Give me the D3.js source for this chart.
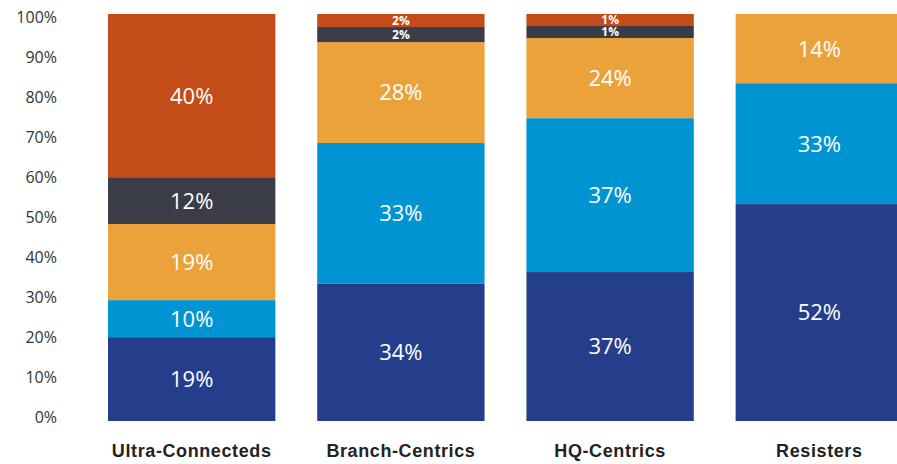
<!DOCTYPE html>
<html>
<head>
<meta charset="utf-8">
<script src="https://cdn.jsdelivr.net/npm/d3@7"></script>
<style>
  html, body { margin: 0; padding: 0; background: #fff; }
  svg { display: block; }
</style>
</head>
<body>
<svg id="chart" width="897" height="464"></svg>
<script>
// categories and segment heights (bottom to top), as drawn in the picture
const categories = ["Ultra-Connecteds", "Branch-Centrics", "HQ-Centrics", "Resisters"];
const seg1 = [20.6, 33.7, 36.6, 53.3];
const seg2 = [9.1, 34.6, 37.8, 29.7];
const seg3 = [18.7, 24.8, 19.7, 17.0];
const seg4 = [11.5, 3.7, 2.95, 0];
const seg5 = [40.1, 3.2, 2.95, 0];

// printed labels on the segments
const lab1 = ["19%", "34%", "37%", "52%"];
const lab2 = ["10%", "33%", "37%", "33%"];
const lab3 = ["19%", "28%", "24%", "14%"];
const lab4 = ["12%", "2%", "1%", ""];
const lab5 = ["40%", "2%", "1%", ""];

const yTicks = [0, 10, 20, 30, 40, 50, 60, 70, 80, 90, 100];

const keys = ["seg1", "seg2", "seg3", "seg4", "seg5"];
const colors = ["#253e8c", "#0094d3", "#eba23a", "#3a3d47", "#c34c18"];
const segs = [seg1, seg2, seg3, seg4, seg5];
const labs = [lab1, lab2, lab3, lab4, lab5];

const table = categories.map((c, i) => {
    const row = { cat: c };
    keys.forEach((k, j) => { row[k] = segs[j][i]; row[k + "_lab"] = labs[j][i]; });
    return row;
});

const svg = d3.select("#chart");

const x = d3.scaleBand()
    .domain(categories)
    .range([108, 903])
    .paddingInner(0.2)
    .paddingOuter(0);

const y = d3.scaleLinear().domain([0, 100]).range([421, 14]);
// tick labels sit a little inside the bar extent in the original
const yLab = d3.scaleLinear().domain([0, 100]).range([417, 17]);

const stacked = d3.stack().keys(keys)(table);

const layers = svg.append("g").selectAll("g")
    .data(stacked)
    .join("g")
    .attr("fill", (d, i) => colors[i]);

layers.selectAll("rect")
    .data(d => d.filter(p => p[1] - p[0] > 0))
    .join("rect")
    .attr("x", d => x(d.data.cat))
    .attr("width", x.bandwidth())
    .attr("y", d => y(d[1]))
    .attr("height", d => y(d[0]) - y(d[1]));

// segment labels
stacked.forEach(layer => {
    const k = layer.key;
    svg.append("g").selectAll("text")
        .data(layer.filter(p => p[1] - p[0] > 0))
        .join("text")
        .attr("x", d => x(d.data.cat) + x.bandwidth() / 2)
        .attr("y", d => (y(d[0]) + y(d[1])) / 2)
        .attr("dy", "0.36em")
        .attr("text-anchor", "middle")
        .attr("fill", "#fff")
        .attr("font-family", "'Open Sans', sans-serif")
        .attr("font-size", d => (d[1] - d[0]) < 5 ? 12 : 22)
        .attr("font-weight", d => (d[1] - d[0]) < 5 ? 700 : 400)
        .text(d => d.data[k + "_lab"]);
});

// y axis labels, no line or ticks
const yAxis = d3.axisLeft(yLab)
    .tickValues(yTicks)
    .tickFormat(d => d + "%")
    .tickSize(0)
    .tickPadding(0);

svg.append("g")
    .attr("transform", "translate(57,0)")
    .call(yAxis)
    .call(g => g.select(".domain").remove())
    .selectAll("text")
    .attr("fill", "#333")
    .attr("font-family", "'Open Sans', sans-serif")
    .attr("font-size", 16);

// category labels
const xAxis = d3.axisBottom(x).tickSize(0).tickPadding(0);
svg.append("g")
    .attr("transform", "translate(0,444)")
    .call(xAxis)
    .call(g => g.select(".domain").remove())
    .selectAll("text")
    .attr("dy", "0.72em")
    .attr("fill", "#222")
    .attr("font-family", "'Liberation Sans', Arial, sans-serif")
    .attr("font-size", 18)
    .attr("font-weight", 700)
    .attr("letter-spacing", "0.6px");
</script>
</body>
</html>
